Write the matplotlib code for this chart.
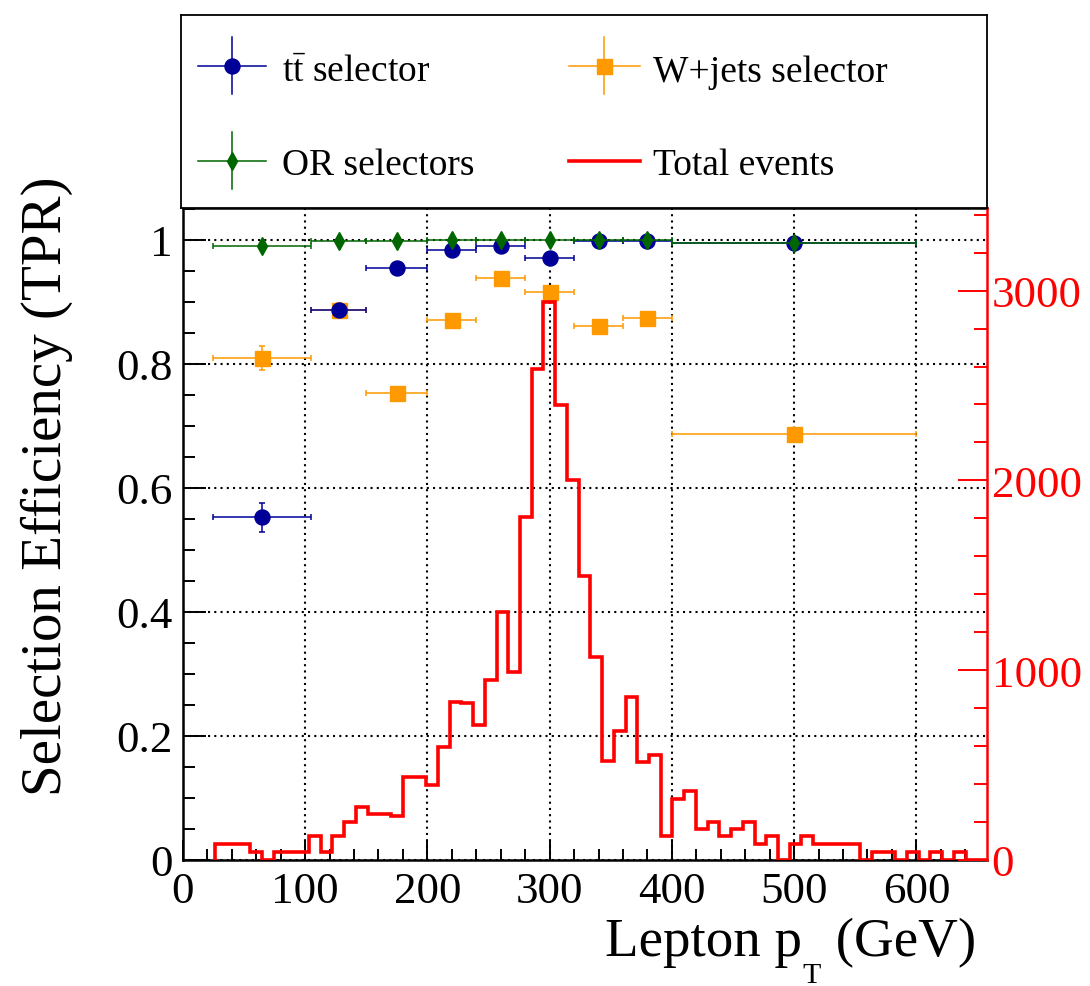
import numpy as np
import matplotlib
matplotlib.use("Agg")
import matplotlib.pyplot as plt
from matplotlib.ticker import MultipleLocator, FuncFormatter
from matplotlib.lines import Line2D

# ---------------------------------------------------------------- data
# efficiency bins in lepton pT (GeV)
bin_lo = [25, 105, 150, 200, 240, 280, 320, 360, 400]
bin_hi = [105, 150, 200, 240, 280, 320, 360, 400, 600]

eff_tt = [0.552, 0.887, 0.954, 0.983, 0.990, 0.970, 0.998, 0.998, 0.994]
err_tt = [0.023, 0.008, 0.006, 0.005, 0.004, 0.006, 0.002, 0.002, 0.003]

eff_wjets = [0.809, 0.887, 0.752, 0.870, 0.938, 0.916, 0.861, 0.873, 0.687]
err_wjets = [0.019, 0.010, 0.009, 0.008, 0.006, 0.007, 0.008, 0.008, 0.008]

eff_or = [0.990, 0.998, 0.998, 0.999, 0.999, 0.999, 0.999, 0.999, 0.994]
err_or = [0.005, 0.002, 0.001, 0.001, 0.001, 0.001, 0.001, 0.001, 0.003]

# total-event histogram (66 equal bins)
hist_lo, hist_hi, hist_nbins = 26.5, 659.4, 66
hist_counts = [85, 85, 85, 42, 0, 42, 42, 42, 125, 42,
               125, 197, 276, 241, 241, 232, 434, 434, 394, 596,
               830, 826, 712, 947, 1304, 988, 1805, 2587, 2939, 2397,
               2004, 1494, 1067, 522, 677, 859, 513, 552, 123, 320,
               360, 162, 200, 123, 162, 197, 83, 123, 0, 83,
               123, 83, 83, 83, 83, 0, 42, 42, 0, 42,
               0, 42, 0, 42, 0, 0]

labels = {"tt": r"$\mathrm{t\bar{t}}$ selector",
          "wjets": "W+jets selector",
          "or": "OR selectors",
          "total": "Total events"}

# ---------------------------------------------------------------- style
plt.rcParams['font.family'] = ['Liberation Serif', 'DejaVu Serif']
plt.rcParams['mathtext.fontset'] = 'custom'
plt.rcParams['mathtext.rm'] = 'Liberation Serif'
plt.rcParams['mathtext.it'] = 'Liberation Serif:italic'
plt.rcParams['mathtext.bf'] = 'Liberation Serif:bold'

C_TT = '#000099'
C_WJ = '#ff9900'
C_OR = '#006600'
C_TOT = '#ff0000'

W, H = 1090, 987
fig = plt.figure(figsize=(W / 100, H / 100), dpi=100)

ax_l, ax_r, ax_t, ax_b = 182.8, 986.7, 209.0, 860.7
ax = fig.add_axes([ax_l / W, 1 - ax_b / H, (ax_r - ax_l) / W, (ax_b - ax_t) / H])
ax.set_xlim(0, 657.5)
ax.set_ylim(0, 1.051)

centers = [(a + b) / 2 for a, b in zip(bin_lo, bin_hi)]
halfw = [(b - a) / 2 for a, b in zip(bin_lo, bin_hi)]

eb_kw = dict(linestyle='none', elinewidth=1.1, capsize=2.5, capthick=1.1)
ax.errorbar(centers, eff_wjets, xerr=halfw, yerr=err_wjets, color=C_WJ,
            marker='s', markersize=10.8, zorder=3, **eb_kw)
ax.errorbar(centers, eff_tt, xerr=halfw, yerr=err_tt, color=C_TT,
            marker='o', markersize=10.8, zorder=4, **eb_kw)
ax.errorbar(centers, eff_or, xerr=halfw, yerr=err_or, color=C_OR,
            marker='d', markersize=9.2, zorder=5, **eb_kw)

ax.grid(True, which='major', color='black', linestyle=(0, (1, 2)), linewidth=1.5)
ax.set_axisbelow(True)

ax.xaxis.set_major_locator(MultipleLocator(100))
ax.xaxis.set_minor_locator(MultipleLocator(20))
ax.yaxis.set_major_locator(MultipleLocator(0.2))
ax.yaxis.set_minor_locator(MultipleLocator(0.05))
ax.yaxis.set_major_formatter(FuncFormatter(lambda v, p: f"{v:g}"))
ax.tick_params(axis='x', which='both', direction='in', bottom=True, top=False,
               labelsize=32.4, pad=8, width=1.4)
ax.tick_params(axis='x', which='major', length=14.4)
ax.tick_params(axis='x', which='minor', length=7.9)
ax.tick_params(axis='y', which='both', direction='in', left=True, right=False,
               labelsize=32.4, pad=7, width=1.4)
ax.tick_params(axis='y', which='major', length=16.5)
ax.tick_params(axis='y', which='minor', length=8.6)
for s in ('left', 'bottom', 'top'):
    ax.spines[s].set_linewidth(1.8)
ax.spines['right'].set_visible(False)

# total events on the right-hand axis
ax2 = ax.twinx()
ax2.set_ylim(0, 3436)
edges = np.linspace(hist_lo, hist_hi, hist_nbins + 1)
ax2.stairs(hist_counts, edges, color=C_TOT, linewidth=2.6, baseline=0, zorder=6)
ax2.yaxis.set_major_locator(MultipleLocator(1000))
ax2.yaxis.set_minor_locator(MultipleLocator(200))
ax2.tick_params(axis='y', which='both', direction='in', right=True, left=False,
                colors=C_TOT, labelsize=32.4, pad=3.6, width=1.4)
ax2.tick_params(axis='y', which='major', length=21)
ax2.tick_params(axis='y', which='minor', length=9.4)
for s in ('left', 'top', 'bottom'):
    ax2.spines[s].set_visible(False)
ax2.spines['right'].set_color(C_TOT)
ax2.spines['right'].set_linewidth(1.8)

# axis titles
fig.text(47 / W, 1 - 177 / H, "Selection Efficiency (TPR)", rotation=90,
         ha='center', va='top', fontsize=41)

# x title built from pieces so the subscript sits low, as in ROOT's p_{T}
t_unit = fig.text(976 / W, 1 - 956 / H, " (GeV)", ha='right', va='baseline',
                  fontsize=39.6)
t_sub = fig.add_artist(matplotlib.text.Annotation(
    "T", xy=(0, 0), xycoords=t_unit, xytext=(-1, -10.8),
    textcoords='offset points', ha='right', va='baseline', fontsize=21.5))
fig.add_artist(matplotlib.text.Annotation(
    "Lepton p", xy=(0, 0), xycoords=(t_sub, t_unit), xytext=(-0.5, 0),
    textcoords='offset points', ha='right', va='bottom', fontsize=39.6))

# legend box above the frame
lg_l, lg_r, lg_t, lg_b = 181, 987, 16, 209
lax = fig.add_axes([lg_l / W, 1 - lg_b / H, (lg_r - lg_l) / W, (lg_b - lg_t) / H])
lax.set_xlim(0, 1)
lax.set_ylim(0, 1)
lax.set_xticks([])
lax.set_yticks([])
for s in lax.spines.values():
    s.set_linewidth(1.3)

row_y = [0.737, 0.245]
row_base = [0.66, 0.176]
col_line = [(0.0206, 0.106), (0.481, 0.569)]
col_text = [0.125, 0.585]
vhalf = 0.148

entries = [(0, 0, C_TT, 'o', 10.8, labels["tt"], True),
           (0, 1, C_WJ, 's', 10.8, labels["wjets"], True),
           (1, 0, C_OR, 'd', 9.2, labels["or"], True),
           (1, 1, C_TOT, None, 0, labels["total"], False)]
for r, c, col, mk, ms, txt, is_graph in entries:
    x0, x1 = col_line[c]
    xm = 0.5 * (x0 + x1)
    y = row_y[r]
    if is_graph:
        lax.add_line(Line2D([x0, x1], [y, y], color=col, lw=1.1))
        lax.add_line(Line2D([xm, xm], [y - vhalf, y + vhalf], color=col, lw=1.1))
        lax.add_line(Line2D([xm], [y], color=col, marker=mk, markersize=ms,
                            linestyle='none'))
    else:
        lax.add_line(Line2D([x0, x1], [y, y], color=col, lw=2.6))
    lax.text(col_text[c], row_base[r], txt, ha='left', va='baseline', fontsize=27)

fig.savefig("out.png", dpi=100)
